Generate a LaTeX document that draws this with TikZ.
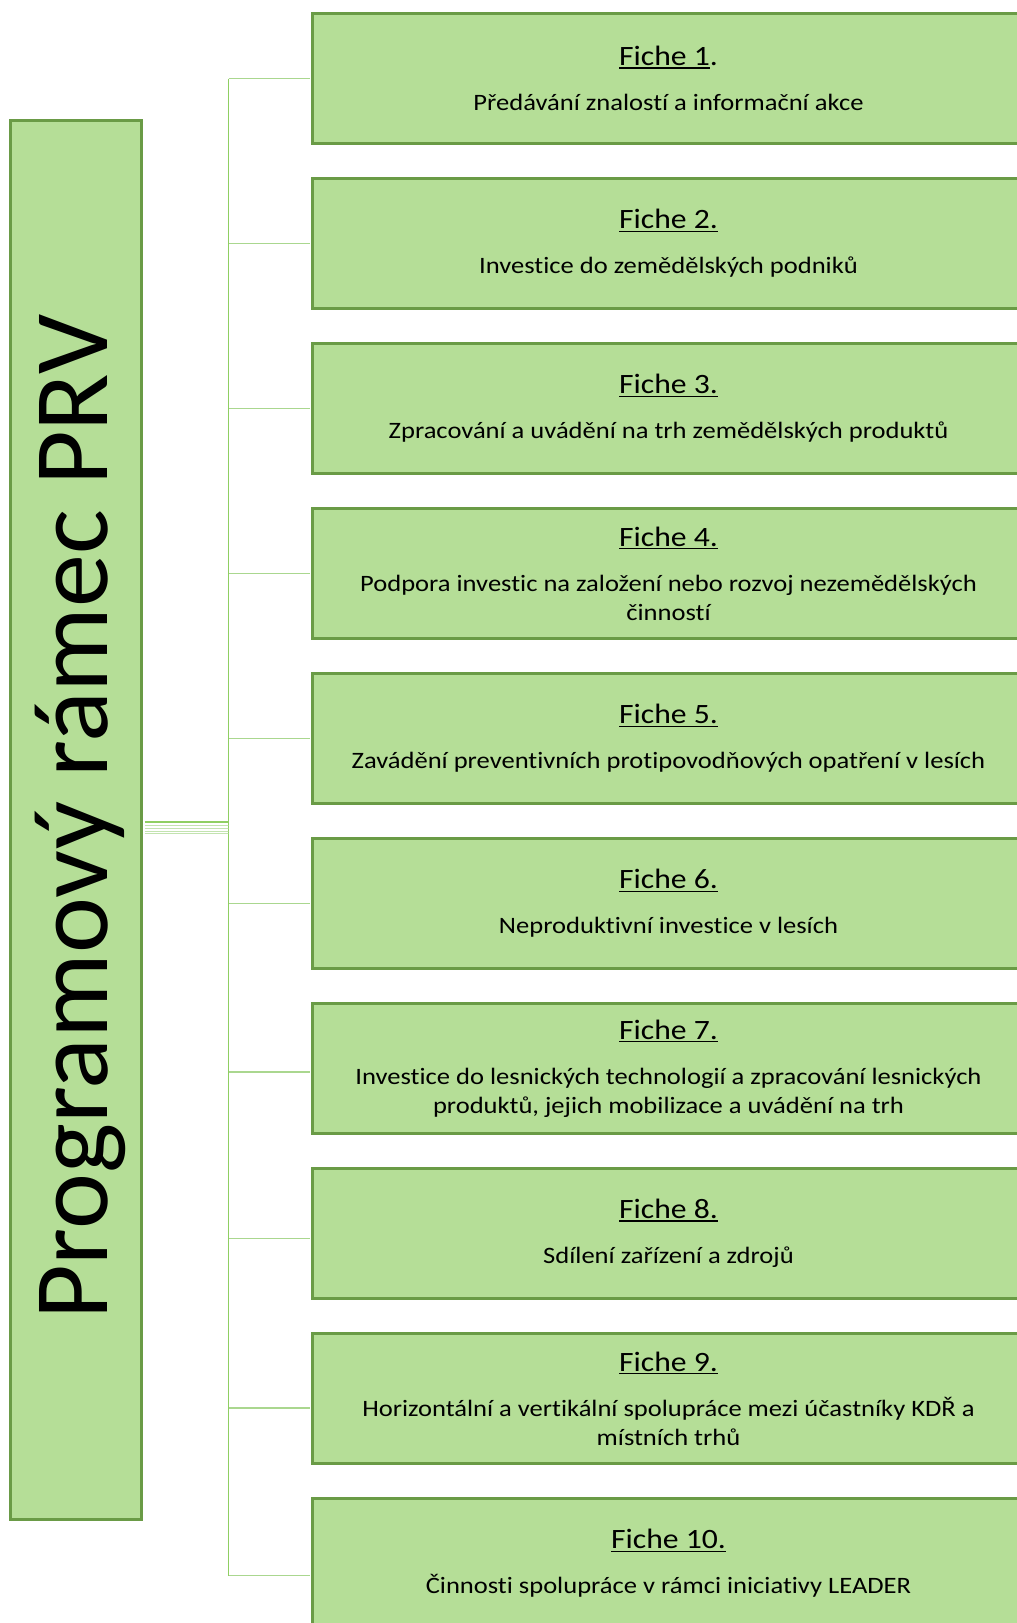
\documentclass[tikz,border=0pt]{standalone}
\usepackage{fontspec}
\setmainfont{Carlito}
\newfontfamily\wideface{Carlito}[FakeStretch=1.13, Ligatures=NoCommon]
\newcommand{\ficheline}[1]{\leavevmode\vtop{\hbox{#1}\kern1.5pt\hrule height1.4pt}}
\usetikzlibrary{positioning}
\definecolor{leaf}{HTML}{B5DE97}
\definecolor{moss}{HTML}{6A9B46}
\definecolor{sprout}{HTML}{8FCF62}
\definecolor{twiggreen}{HTML}{AAD78F}
\tikzstyle{block} = [rectangle, draw=moss, fill=leaf, line width=3pt, inner sep=0pt]
\tikzstyle{fiche} = [block, minimum width=712pt, minimum height=130pt, align=center, font=\wideface\fontsize{23.5}{29}\selectfont]
\tikzstyle{programme} = [block, minimum width=131pt, minimum height=1399pt]
\tikzstyle{stem} = [draw=sprout, line width=1.5pt]
\tikzstyle{twig} = [draw=twiggreen, line width=1.5pt]
\newcommand{\fichetitle}[1]{{\fontsize{28}{30}\selectfont #1}}

\begin{document}
\begin{tikzpicture}[x=1pt, y=-1pt]
    \useasboundingbox (0, 0) rectangle (1017, 1623);

    % Programme.
    \node (prv) [programme] at (76, 820) {};
    \node (prv text) [rotate=90, anchor=base, font=\fontsize{106}{110}\selectfont] at (107, 817.5) {Programový rámec PRV};

    % Fiches and their twigs.
    \foreach \i/\t/\d/\dy in {
        1/{\ficheline{Fiche 1}.}/{Předávání znalostí a informační akce}/0,
        2/{\ficheline{Fiche 2.}}/{Investice do zemědělských podniků}/0,
        3/{\ficheline{Fiche 3.}}/{Zpracování a uvádění na trh zemědělských produktů}/0,
        4/{\ficheline{Fiche 4.}}/{Podpora investic na založení nebo rozvoj nezemědělských\\činností}/0,
        5/{\ficheline{Fiche 5.}}/{Zavádění preventivních protipovodňových opatření v lesích}/0,
        6/{\ficheline{Fiche 6.}}/{Neproduktivní investice v lesích}/0,
        7/{\ficheline{Fiche 7.}}/{Investice do lesnických technologií a zpracování lesnických\\produktů, jejich mobilizace a uvádění na trh}/3.5,
        8/{\ficheline{Fiche 8.}}/{Sdílení zařízení a zdrojů}/5,
        9/{\ficheline{Fiche 9.}}/{Horizontální a vertikální spolupráce mezi účastníky KDŘ a\\místních trhů}/9.5,
        10/{\ficheline{Fiche 10.}}/{Činnosti spolupráce v rámci iniciativy LEADER}/12} {
        \pgfmathsetmacro{\y}{78.5 + 165*(\i - 1)}

        \node (fiche \i) [fiche] at (668.5, \y) {\fichetitle{\t}\\[16pt]\d};
        \coordinate (joint \i) at (228.7, \y + \dy);
        \draw [twig, shorten >=1.5pt] (joint \i) -- (joint \i -| fiche \i.west);
    }

    % Stem.
    \draw [stem] (joint 1) -- (joint 10);

    % Hub from the programme.
    \coordinate (hub) at (228.7, 822);
    \draw [stem, line width=2.5pt, shorten <=1.5pt] (prv.east |- hub) -- (hub);

    \foreach \k in {825, 828, 831, 833} {
        \coordinate (hub \k) at (228.7, \k);
        \draw [twig, line width=1pt, opacity=0.7, shorten <=1.5pt] (prv.east |- hub \k) -- (hub \k);
    }
\end{tikzpicture}
\end{document}
